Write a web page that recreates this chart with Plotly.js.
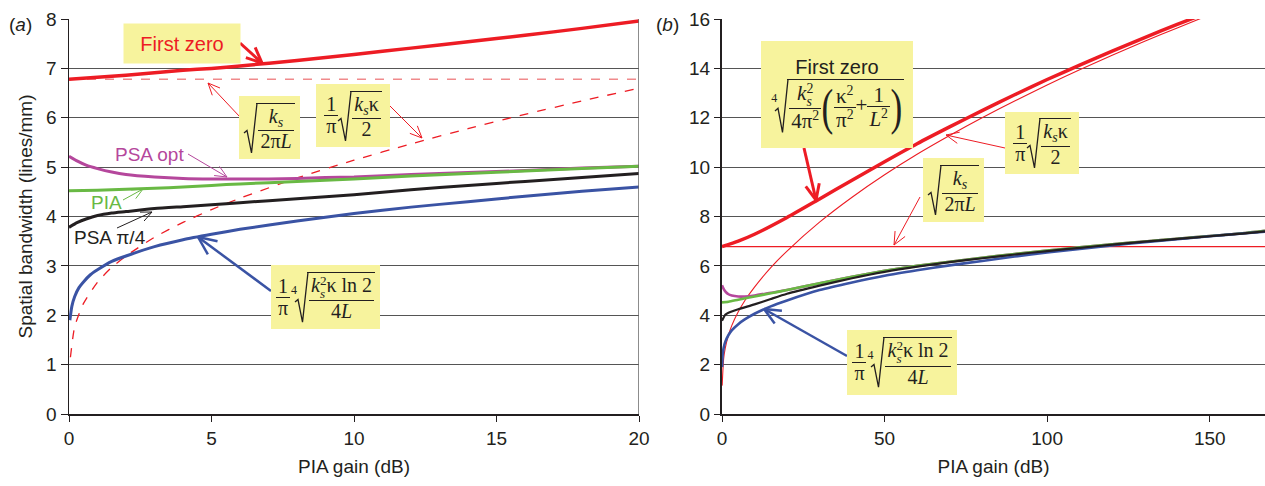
<!DOCTYPE html>
<html><head><meta charset="utf-8">
<script src="https://cdn.plot.ly/plotly-3.0.1.min.js"></script>
<style>
body{margin:0;background:#fff;}
#wrap{position:relative;width:1265px;height:486px;overflow:hidden;}
#chart{position:absolute;left:0;top:0;width:1265px;height:486px;}
.box{position:absolute;background:#f7f39d;display:flex;flex-direction:column;align-items:center;justify-content:center;font-family:"Liberation Serif","DejaVu Serif",serif;font-size:20px;color:#231f20;white-space:nowrap;line-height:1.05;}
.row{display:flex;align-items:center;}
.frac{display:inline-block;vertical-align:middle;text-align:center;}
.frac>span{display:block;padding:0 2px;}
.frac>.num{border-bottom:1.3px solid #231f20;}
.rad{position:relative;display:inline-block;vertical-align:middle;padding-left:12px;}
.rad>svg{position:absolute;left:0;top:0;width:13px;height:100%;overflow:visible;}
.rad.ix{padding-left:17px;}
.rad.ix>svg{left:5px;}
.rb{display:inline-block;border-top:1.3px solid #231f20;padding:2px 1px 0 2px;}
.idx{position:absolute;left:1px;top:24%;font-size:12px;}
.sb{font-size:0.7em;vertical-align:-0.3em;}
.sp{font-size:0.66em;vertical-align:0.55em;}
.ss{display:inline-flex;flex-direction:column;font-size:0.66em;line-height:0.95;vertical-align:middle;text-align:left;}
.bp{font-size:2.4em;line-height:1;vertical-align:middle;display:inline-block;transform:scaleX(0.7);font-weight:normal;margin:0 -2px;}
.fz{font-family:"Liberation Sans",Arial,sans-serif;font-size:20px;margin-bottom:1px;}
.big{font-size:21px;}
</style>
</head><body>
<div id="wrap"><div id="chart"></div></div>
<script>
// ---------- Data: panel (a) ----------
const xA_first = [0,1,2,3,4,5,6,8,10,12,14,16,18,20];
const yA_first = [6.78,6.82,6.86,6.91,6.96,7.0,7.05,7.16,7.28,7.41,7.54,7.67,7.81,7.96];
const xA_kappa = [0.05,0.2,0.5,1,1.5,2,3,4,5,6,8,10,12,14,16,18,20];
const yA_kappa = [1.15,1.77,2.23,2.67,2.97,3.2,3.58,3.88,4.14,4.37,4.78,5.14,5.47,5.78,6.07,6.34,6.6];
const xA_L = [0,20];
const yA_L = [6.78,6.78];
const xA_blue = [0.03,0.1,0.2,0.35,0.5,0.75,1,1.5,2,3,4,5,6,8,10,12,14,16,18,20];
const yA_blue = [1.9,2.18,2.38,2.56,2.67,2.82,2.92,3.09,3.2,3.39,3.53,3.64,3.74,3.91,4.06,4.19,4.3,4.41,4.51,4.6];
const xA_psa4 = [0,0.3,0.6,1,1.5,2,3,4,5,6,8,10,12,14,16,18,20];
const yA_psa4 = [3.78,3.88,3.95,4.02,4.07,4.1,4.16,4.2,4.24,4.28,4.36,4.44,4.54,4.63,4.71,4.79,4.87];
const xA_pia = [0,1,2,3,4,5,6,8,10,12,14,16,18,20];
const yA_pia = [4.52,4.53,4.55,4.57,4.6,4.63,4.66,4.71,4.76,4.82,4.87,4.92,4.97,5.02];
const xA_opt = [0,0.3,0.6,1,1.5,2,3,4,5,6,7,8,9,10,12,14,16,18,20];
const yA_opt = [5.22,5.12,5.04,4.97,4.9,4.85,4.8,4.77,4.76,4.76,4.76,4.77,4.79,4.8,4.85,4.89,4.93,4.98,5.02];

// ---------- Data: panel (b) ----------
const xB_first = [0,5,10,20,30,40,50,60,70,80,90,100,110,120,130,140,150];
const yB_first = [6.78,7.0,7.28,7.96,8.71,9.47,10.22,10.95,11.63,12.29,12.93,13.55,14.13,14.7,15.25,15.78,16.29];
const xB_kappa = [0.05,0.5,1,2,3,5,7,10,15,20,30,40,50,60,70,80,90,100,110,120,130,140,150];
const yB_kappa = [1.15,2.23,2.67,3.2,3.58,4.14,4.59,5.14,5.93,6.6,7.77,8.78,9.69,10.52,11.28,12.0,12.68,13.33,13.94,14.53,15.1,15.64,16.17];
const xB_L = [0,167];
const yB_L = [6.78,6.78];
const xB_blue = [0.03,0.2,0.5,1,2,3,5,7,10,15,20,30,40,50,60,70,80,90,100,110,120,130,140,150,160,167];
const yB_blue = [1.9,2.38,2.67,2.92,3.2,3.39,3.64,3.83,4.06,4.36,4.6,5.02,5.33,5.6,5.82,6.02,6.2,6.38,6.54,6.69,6.83,6.96,7.08,7.2,7.31,7.38];
const xB_psa4 = [0,1,2,5,10,15,20,30,40,50,60,70,80,90,100,110,120,130,140,150,160,167];
const yB_psa4 = [3.78,4.02,4.1,4.24,4.44,4.66,4.87,5.2,5.5,5.76,5.97,6.15,6.31,6.46,6.6,6.73,6.86,6.98,7.09,7.2,7.31,7.4];
const xB_pia = [0,2,5,10,15,20,30,40,50,60,70,80,90,100,110,120,130,140,150,160,167];
const yB_pia = [4.52,4.55,4.63,4.76,4.89,5.02,5.3,5.56,5.8,6.0,6.17,6.33,6.48,6.62,6.75,6.87,6.99,7.1,7.21,7.32,7.42];
const xB_opt = [0,0.5,1,2,3,5,7,10,15,20,30,40,50,60,70,80,90,100,110,120,130,140,150,160,167];
const yB_opt = [5.22,5.07,4.97,4.85,4.8,4.76,4.76,4.8,4.91,5.02,5.3,5.56,5.8,6.0,6.17,6.33,6.48,6.62,6.75,6.87,6.99,7.1,7.21,7.32,7.42];

const xTicksA = [0,5,10,15,20];
const xTicksB = [0,50,100,150];

const RED='#ed1c24', PUR='#b5479c', GRN='#69b944', BLK='#231f20', BLU='#3a53a4';

function tr(x,y,xa,ya,color,width,dash){
  return {x:x,y:y,xaxis:xa,yaxis:ya,type:'scatter',mode:'lines',
    line:{color:color,width:width,dash:dash||'solid',shape:'spline',smoothing:0.6},hoverinfo:'skip'};
}
const data = [
  tr(xA_L,yA_L,'x','y','#f08a8c',1.3,'dash'),
  tr(xA_kappa,yA_kappa,'x','y',RED,1.3,'dash'),
  tr(xA_opt,yA_opt,'x','y',PUR,3),
  tr(xA_pia,yA_pia,'x','y',GRN,3),
  tr(xA_psa4,yA_psa4,'x','y',BLK,3),
  tr(xA_blue,yA_blue,'x','y',BLU,3),
  tr(xA_first,yA_first,'x','y',RED,3.5),
  tr(xB_L,yB_L,'x2','y2',RED,1.2),
  tr(xB_kappa,yB_kappa,'x2','y2',RED,1.1),
  tr(xB_opt,yB_opt,'x2','y2',PUR,2.6),
  tr(xB_pia,yB_pia,'x2','y2',GRN,2.6),
  tr(xB_blue,yB_blue,'x2','y2',BLU,2.6),
  tr(xB_psa4,yB_psa4,'x2','y2',BLK,2.2),
  tr(xB_first,yB_first,'x2','y2',RED,3.5)
];

// pixel -> paper helpers (margins l=69, t=19, b=72)
const ML=69, PW=1196, PT=19, PH=395;
const px=v=>(v-ML)/PW, py=v=>(PT+PH-v)/PH;

function arrow(x0,y0,x1,y1,color,w,head){
  const a=Math.atan2(y1-y0,x1-x0), s=[];
  const ln=(ax,ay,bx,by)=>({type:'line',xref:'paper',yref:'paper',x0:px(ax),y0:py(ay),x1:px(bx),y1:py(by),line:{color:color,width:w}});
  s.push(ln(x0,y0,x1,y1));
  [0.42,-0.42].forEach(d=>{
    s.push(ln(x1,y1,x1-head*Math.cos(a+d),y1-head*Math.sin(a+d)));
  });
  return s;
}
let shapes=[
  {type:'line',xref:'x',yref:'y',x0:20,x1:20,y0:0,y1:8,line:{color:'#666',width:1.5}}
];
shapes=shapes.concat(
  arrow(240,43,262,63,RED,3,17),
  arrow(240,117,208,83,RED,1,13),
  arrow(389,105,422,138,RED,1,13),
  arrow(188,154,227,177,PUR,1,13),
  arrow(123,200,143,189,GRN,1,12),
  arrow(117,228,152,212,BLK,1,12),
  arrow(271,291,198,237,BLU,2.5,20),
  arrow(804,148,816,200,RED,3,17),
  arrow(1005,148,946,135,RED,1,14),
  arrow(920,197,894,245,RED,1,14),
  arrow(847,356,764,309,BLU,2.5,18)
);

function txt(x,y,text,color,size,opts){
  return Object.assign({xref:'paper',yref:'paper',x:px(x),y:py(y),text:text,showarrow:false,
    font:{color:color,size:size,family:'"Liberation Sans", Arial, sans-serif'},xanchor:'center',yanchor:'middle'},opts||{});
}
const annotations=[
  txt(20,25,'(<i>a</i>)',BLK,19),
  txt(667,25,'(<i>b</i>)',BLK,19),
  txt(182,43,'First zero',RED,20,{bgcolor:'#f7f39d',width:112,height:35,borderpad:2}),
  txt(149,154,'PSA opt',PUR,19),
  txt(106,202,'PIA',GRN,19),
  txt(110,237,'PSA π/4',BLK,19)
];

const axCommon={ticks:'outside',tickcolor:BLK,tickfont:{size:19,color:BLK},zeroline:false,showline:true,linecolor:BLK};
const layout={
  width:1265,height:486,margin:{l:ML,r:0,t:PT,b:72},
  paper_bgcolor:'#fff',plot_bgcolor:'#fff',showlegend:false,
  font:{family:'"Liberation Sans", Arial, sans-serif',color:BLK,size:18},
  xaxis:Object.assign({},axCommon,{domain:[0,570/PW],range:[0,20],tickvals:xTicksA,ticklen:6,showgrid:false,linewidth:2,
    title:{text:'PIA gain (dB)',font:{size:19},standoff:12}}),
  yaxis:Object.assign({},axCommon,{range:[0,8],dtick:1,ticklen:7,showgrid:true,gridcolor:'#555',gridwidth:1,linewidth:1.5,
    title:{text:'Spatial bandwidth (lines/mm)',font:{size:19},standoff:8}}),
  xaxis2:Object.assign({},axCommon,{anchor:'y2',domain:[(722-ML)/PW,1],range:[0,167],tickvals:xTicksB,ticklen:6,showgrid:false,linewidth:2,
    title:{text:'PIA gain (dB)',font:{size:19},standoff:12}}),
  yaxis2:Object.assign({},axCommon,{anchor:'x2',range:[0,16],dtick:2,ticklen:6,showgrid:true,gridcolor:'#555',gridwidth:1,linewidth:2}),
  shapes:shapes,annotations:annotations
};
Plotly.newPlot('chart',data,layout,{displayModeBar:false,staticPlot:true});

// ---------- formula overlays ----------
const KS='<i>k</i><span class="sb"><i>s</i></span>';
const KS2='<i>k</i><span class="ss"><span>2</span><span><i>s</i></span></span>';
function frac(n,d){return '<span class="frac"><span class="num">'+n+'</span><span>'+d+'</span></span>';}
function rad(c,idx){
  return '<span class="rad'+(idx?' ix':'')+'"><svg viewBox="0 0 13 100" preserveAspectRatio="none"><polyline points="0,60 3,55 7.5,100 13,0.6" fill="none" stroke="#231f20" stroke-width="1.3" vector-effect="non-scaling-stroke"/></svg>'+
    (idx?'<span class="idx">'+idx+'</span>':'')+'<span class="rb">'+c+'</span></span>';
}
const F_L = rad(frac(KS,'2π<i>L</i>'));
const F_K = frac('1','π')+rad(frac(KS+'κ','2'));
const F_B = frac('1','π')+rad(frac(KS2+'κ ln 2','4<i>L</i>'),'4');
const F_Z = rad(frac(KS2,'4π<span class="sp">2</span>')+'<span class="bp">(</span>'+frac('κ<span class="sp">2</span>','π<span class="sp">2</span>')+'+'+frac('1','<i>L</i><span class="sp">2</span>')+'<span class="bp">)</span>','4');
const boxes=[
  [239,96,61,63,'<div class="row">'+F_L+'</div>'],
  [316,84,74,63,'<div class="row">'+F_K+'</div>'],
  [271,265,109,64,'<div class="row">'+F_B+'</div>'],
  [761,41,152,107,'<div class="fz">First zero</div><div class="row big">'+F_Z+'</div>'],
  [1005,112,74,62,'<div class="row">'+F_K+'</div>'],
  [923,158,61,64,'<div class="row">'+F_L+'</div>'],
  [847,330,110,65,'<div class="row">'+F_B+'</div>']
];
const wrap=document.getElementById('wrap');
boxes.forEach(b=>{
  const d=document.createElement('div');
  d.className='box';
  d.style.left=b[0]+'px';d.style.top=b[1]+'px';d.style.width=b[2]+'px';d.style.height=b[3]+'px';
  d.innerHTML=b[4];
  wrap.appendChild(d);
});
</script>
</body></html>
